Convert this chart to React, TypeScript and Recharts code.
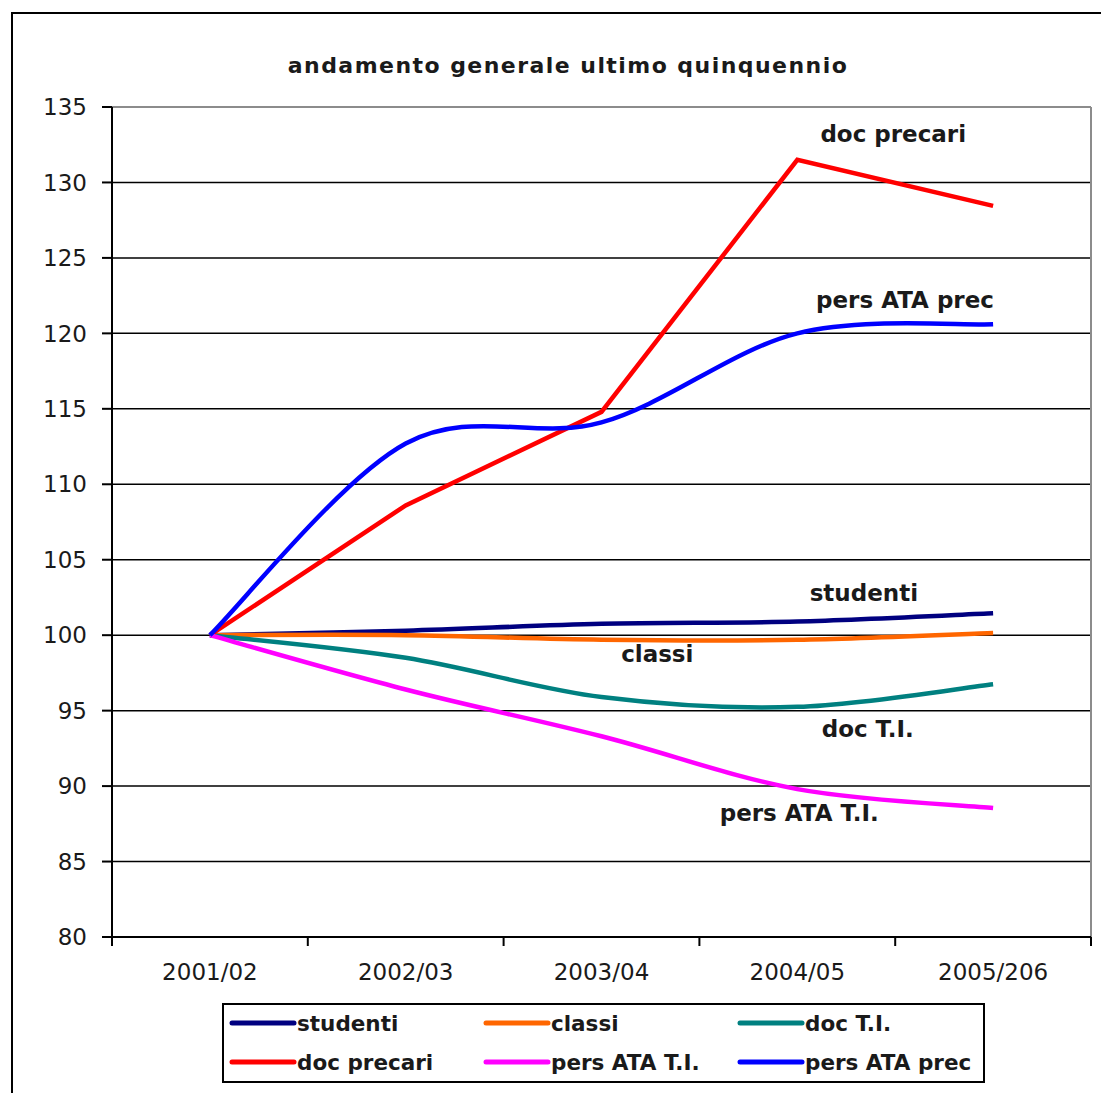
import {
  ComposedChart,
  Line,
  XAxis,
  YAxis,
  CartesianGrid,
  ReferenceLine,
  ReferenceDot,
} from 'recharts';

const categories = ['2001/02', '2002/03', '2003/04', '2004/05', '2005/206'];
const studenti = [100, 100.3, 100.75, 100.9, 101.45];
const classi = [100, 100.0, 99.7, 99.7, 100.15];
const docTI = [100, 98.5, 95.9, 95.25, 96.75];
const docPrecari = [100, 108.6, 114.8, 131.5, 128.45];
const persAtaTI = [100, 96.4, 93.3, 89.8, 88.55];
const persAtaPrec = [100, 112.7, 114.1, 120.0, 120.6];
const yTicks = [80, 85, 90, 95, 100, 105, 110, 115, 120, 125, 130, 135];
const xTicks = [-0.5, 0, 0.5, 1, 1.5, 2, 2.5, 3, 3.5, 4, 4.5];

const series = [
  { key: 'studenti', name: 'studenti', color: '#000080', values: studenti, smooth: true },
  { key: 'classi', name: 'classi', color: '#FF6600', values: classi, smooth: true },
  { key: 'docTI', name: 'doc T.I.', color: '#008080', values: docTI, smooth: true },
  { key: 'docPrecari', name: 'doc precari', color: '#FF0000', values: docPrecari, smooth: false },
  { key: 'persAtaTI', name: 'pers ATA T.I.', color: '#FF00FF', values: persAtaTI, smooth: true },
  { key: 'persAtaPrec', name: 'pers ATA prec', color: '#0000FF', values: persAtaPrec, smooth: true },
];

// in-plot labels, placed in data coordinates (x = category index)
const notes = [
  { text: 'doc precari', i: 3.49, v: 132.67 },
  { text: 'pers ATA prec', i: 3.55, v: 121.65 },
  { text: 'studenti', i: 3.34, v: 102.27 },
  { text: 'classi', i: 2.285, v: 98.19 },
  { text: 'doc T.I.', i: 3.36, v: 93.22 },
  { text: 'pers ATA T.I.', i: 3.01, v: 87.7 },
];

const data = categories.map((c, i) => {
  const row: Record<string, number | string> = { i, cat: c };
  series.forEach((s) => (row[s.key] = s.values[i]));
  return row;
});

// Excel-like smoothed line (Catmull-Rom through the points)
function excelSmooth(context: any) {
  let pts: number[][] = [];
  return {
    areaStart() {},
    areaEnd() {},
    lineStart() {
      pts = [];
    },
    lineEnd() {
      if (!pts.length) return;
      context.moveTo(pts[0][0], pts[0][1]);
      for (let k = 0; k < pts.length - 1; k++) {
        const p0 = pts[Math.max(k - 1, 0)];
        const p1 = pts[k];
        const p2 = pts[k + 1];
        const p3 = pts[Math.min(k + 2, pts.length - 1)];
        context.bezierCurveTo(
          p1[0] + (p2[0] - p0[0]) / 6,
          p1[1] + (p2[1] - p0[1]) / 6,
          p2[0] - (p3[0] - p1[0]) / 6,
          p2[1] - (p3[1] - p1[1]) / 6,
          p2[0],
          p2[1],
        );
      }
    },
    point(x: number, y: number) {
      pts.push([+x, +y]);
    },
  };
}

const FONT = '"DejaVu Sans", Verdana, sans-serif';

function XTick(props: any) {
  const { x, y, payload } = props;
  const v = payload.value;
  if (!Number.isInteger(v)) {
    return <line x1={x} x2={x} y1={y} y2={y + 9} stroke="#000" strokeWidth={2} />;
  }
  return (
    <text x={x} y={y + 43} textAnchor="middle" fontFamily={FONT} fontSize={23} fill="#1a1a1a">
      {categories[v]}
    </text>
  );
}

function NoteShape(text: string) {
  return (p: any) => (
    <text x={p.cx} y={p.cy} textAnchor="middle" fontFamily={FONT} fontWeight="bold" fontSize={23} fill="#1a1a1a">
      {text}
    </text>
  );
}

export default function App() {
  return (
    <div style={{ position: 'relative', width: 1101, height: 1085, overflow: 'hidden', background: '#fff' }}>
      <div
        style={{
          position: 'absolute',
          left: 3,
          top: 4,
          width: 1130,
          height: 1110,
          border: '2px solid #000',
        }}
      />
      <div
        style={{
          position: 'absolute',
          left: 0,
          top: 45,
          width: 1120,
          textAlign: 'center',
          fontFamily: FONT,
          fontWeight: 'bold',
          fontSize: 22,
          lineHeight: '26px',
          letterSpacing: 1.45,
          color: '#1a1a1a',
        }}
      >
        andamento generale ultimo quinquennio
      </div>
      <div style={{ position: 'absolute', left: 0, top: 0 }}>
        <ComposedChart
          width={1101}
          height={1085}
          data={data}
          margin={{ top: 99, right: 18, bottom: 96, left: 34 }}
        >
          <CartesianGrid horizontal vertical={false} stroke="#000" strokeWidth={1.5} />
          <XAxis
            dataKey="i"
            type="number"
            domain={[-0.5, 4.5]}
            ticks={xTicks}
            interval={0}
            height={60}
            tickLine={false}
            tickSize={0}
            tickMargin={0}
            tick={<XTick />}
            axisLine={{ stroke: '#000', strokeWidth: 2 }}
            allowDataOverflow
          />
          <YAxis
            type="number"
            domain={[80, 135]}
            ticks={yTicks}
            interval={0}
            width={70}
            tickSize={10}
            tickMargin={15}
            tickLine={{ stroke: '#000', strokeWidth: 2 }}
            axisLine={{ stroke: '#000', strokeWidth: 2 }}
            tick={{ fontFamily: FONT, fontSize: 23, fill: '#1a1a1a' }}
            allowDataOverflow
          />
          <ReferenceLine y={135} stroke="#8c8c8c" strokeWidth={2} />
          <ReferenceLine x={4.5} stroke="#8c8c8c" strokeWidth={2} />
          {series.map((s) => (
            <Line
              key={s.key}
              dataKey={s.key}
              name={s.name}
              type={s.smooth ? (excelSmooth as any) : 'linear'}
              stroke={s.color}
              strokeWidth={4.5}
              dot={false}
              activeDot={false}
              isAnimationActive={false}
            />
          ))}
          {notes.map((n) => (
            <ReferenceDot key={n.text} x={n.i} y={n.v} r={0} shape={NoteShape(n.text)} />
          ))}
        </ComposedChart>
      </div>
      <div
        style={{
          position: 'absolute',
          left: 214,
          top: 995,
          width: 763,
          height: 80,
          boxSizing: 'border-box',
          border: '2px solid #000',
          background: '#fff',
        }}
      >
        {series.map((s, k) => {
          const col = k % 3;
          const row = Math.floor(k / 3);
          return (
            <div
              key={s.key}
              style={{
                position: 'absolute',
                left: 5 + col * 254,
                top: 4 + row * 39,
                height: 28,
                display: 'flex',
                alignItems: 'center',
                whiteSpace: 'nowrap',
              }}
            >
              <svg width={68} height={10} style={{ display: 'block' }}>
                <line x1={3} x2={65} y1={5} y2={5} stroke={s.color} strokeWidth={5} strokeLinecap="round" />
              </svg>
              <span
                style={{
                  fontFamily: FONT,
                  fontWeight: 'bold',
                  fontSize: 21.5,
                  color: '#1a1a1a',
                }}
              >
                {s.name}
              </span>
            </div>
          );
        })}
      </div>
    </div>
  );
}
